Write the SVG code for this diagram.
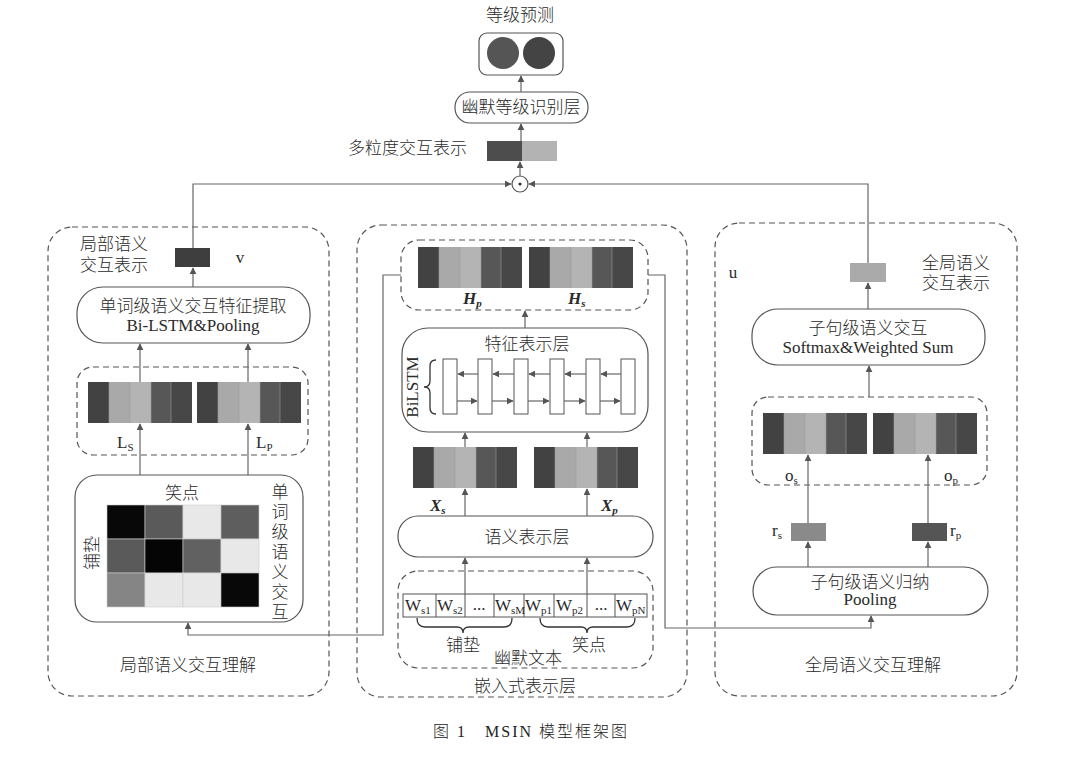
<svg xmlns="http://www.w3.org/2000/svg" xmlns:xlink="http://www.w3.org/1999/xlink" width="1070" height="764" viewBox="0 0 1070 764">
<style>
.zh{font-family:"Noto Sans CJK SC","Liberation Sans",sans-serif;font-size:17px;fill:#2a2a2a;font-weight:300}
.en{font-family:"Liberation Serif","Noto Sans CJK SC",serif;font-size:17px;fill:#2a2a2a}
.zh .en{font-weight:400}
.bi{font-weight:bold;font-style:italic}
.sub{font-size:11px}
.box{fill:#fff;stroke:#555;stroke-width:1.2}
.dash{fill:none;stroke:#555;stroke-width:1.2;stroke-dasharray:6 4}
.ln{fill:none;stroke:#666;stroke-width:1.2}
.arr{marker-end:url(#ah)}
.cap{font-family:"Liberation Serif","Noto Sans CJK SC",serif;font-size:16px;fill:#222;font-weight:300}
</style>
<defs>
<marker id="ah" viewBox="0 0 10 10" refX="9" refY="5" markerWidth="7" markerHeight="7" markerUnits="userSpaceOnUse" orient="auto">
<path d="M0,0 L10,5 L0,10 z" fill="#555"/>
</marker>
<g id="bar">
<rect x="0" y="0" width="21" height="41" fill="#424242"/>
<rect x="21" y="0" width="21" height="41" fill="#a9a9a9"/>
<rect x="42" y="0" width="21" height="41" fill="#b4b4b4"/>
<rect x="63" y="0" width="20" height="41" fill="#575757"/>
<rect x="83" y="0" width="21" height="41" fill="#474747"/>
<path d="M21,0V41M42,0V41M63,0V41M83,0V41" stroke="#9a9a9a" stroke-width="0.6"/>
</g>
</defs>
<rect width="1070" height="764" fill="#fff"/>

<!-- panels -->
<g id="panel-local">
<rect class="dash" x="48" y="227" width="281" height="469" rx="24"/>
<text class="zh" x="80" y="250">局部语义<tspan x="80" dy="21">交互表示</tspan></text>
<text class="zh" x="188" y="671" text-anchor="middle">局部语义交互理解</text>
</g>
<g id="panel-embed">
<rect class="dash" x="357" y="225" width="330" height="472" rx="24"/>
<text class="zh" x="525" y="692" text-anchor="middle">嵌入式表示层</text>
</g>
<g id="panel-global">
<rect class="dash" x="715" y="223" width="302" height="473" rx="24"/>
<text class="zh" x="922" y="269">全局语义<tspan x="922" dy="20">交互表示</tspan></text>
<text class="zh" x="873" y="671" text-anchor="middle">全局语义交互理解</text>
</g>

<!-- top -->
<g id="title-pred">
<text class="zh" x="520" y="21" text-anchor="middle">等级预测</text>
</g>
<g id="pred">
<rect class="box" x="479" y="33" width="84" height="42" rx="8"/>
<circle cx="503" cy="53" r="16" fill="#555"/>
<circle cx="539" cy="53" r="16" fill="#444"/>
</g>
<g id="humor-layer">
<rect class="box" x="455" y="92" width="133" height="31" rx="15"/>
<text class="zh" x="521" y="113" text-anchor="middle">幽默等级识别层</text>
</g>
<g id="multi-rep">
<rect x="487" y="141" width="35" height="20" fill="#4d4d4d"/>
<rect x="522" y="141" width="35" height="20" fill="#b3b3b3"/>
<text class="zh" x="348" y="154">多粒度交互表示</text>
</g>
<g id="odot">
<circle cx="520" cy="184" r="8" fill="#fff" stroke="#555" stroke-width="1.2"/>
<circle cx="520" cy="184" r="1.6" fill="#333"/>
</g>

<!-- left panel nodes -->
<g id="v-vec">
<rect x="175" y="248" width="35" height="19" fill="#3e3e3e"/>
<text class="en" x="240" y="263" text-anchor="middle">v</text>
</g>
<g id="word-extract">
<rect class="box" x="77" y="287" width="233" height="56" rx="26"/>
<text class="zh" x="193" y="312" text-anchor="middle">单词级语义交互特征提取<tspan class="en" x="193" dy="19">Bi-LSTM&amp;Pooling</tspan></text>
</g>
<g id="L-bars">
<rect class="dash" x="77" y="367" width="231" height="88" rx="16"/>
<use xlink:href="#bar" x="88" y="382"/>
<use xlink:href="#bar" x="197" y="382"/>
<text class="en" x="117" y="448">L<tspan class="sub" dy="3">S</tspan></text>
<text class="en" x="256" y="448">L<tspan class="sub" dy="3">P</tspan></text>
</g>
<g id="matrix">
<rect class="box" x="75" y="475" width="228" height="147" rx="22"/>
<text class="zh" x="182" y="499" text-anchor="middle">笑点</text>
<text class="zh" transform="translate(98,553) rotate(-90)" text-anchor="middle">铺垫</text>
<g stroke="#ccc" stroke-width="0.6">
<rect x="107" y="505" width="38" height="34" fill="#080808"/>
<rect x="145" y="505" width="38" height="34" fill="#5a5a5a"/>
<rect x="183" y="505" width="38" height="34" fill="#e8e8e8"/>
<rect x="221" y="505" width="38" height="34" fill="#5e5e5e"/>
<rect x="107" y="539" width="38" height="34" fill="#5a5a5a"/>
<rect x="145" y="539" width="38" height="34" fill="#050505"/>
<rect x="183" y="539" width="38" height="34" fill="#616161"/>
<rect x="221" y="539" width="38" height="34" fill="#e8e8e8"/>
<rect x="107" y="573" width="38" height="34" fill="#858585"/>
<rect x="145" y="573" width="38" height="34" fill="#e8e8e8"/>
<rect x="183" y="573" width="38" height="34" fill="#e8e8e8"/>
<rect x="221" y="573" width="38" height="34" fill="#080808"/>
</g>
<text class="zh" x="280" y="483" style="writing-mode:vertical-rl" letter-spacing="3">单词级语义交互</text>
</g>

<!-- middle panel nodes -->
<g id="H-bars">
<rect class="dash" x="401" y="240" width="247" height="70" rx="18"/>
<use xlink:href="#bar" x="418" y="247"/>
<use xlink:href="#bar" x="529" y="247"/>
<text class="en bi" x="463" y="304">H<tspan class="sub" dy="3">p</tspan></text>
<text class="en bi" x="568" y="304">H<tspan class="sub" dy="3">s</tspan></text>
</g>
<g id="feature-layer">
<rect class="box" x="402" y="328" width="246" height="104" rx="26"/>
<text class="zh" x="527" y="350" text-anchor="middle">特征表示层</text>
<text class="en" transform="translate(418,387) rotate(-90)" text-anchor="middle">BiLSTM</text>
<path d="M436,360 Q430,360 430,366 V381 Q430,387 424,387 Q430,387 430,393 V408 Q430,414 436,414" fill="none" stroke="#333" stroke-width="1.3"/>
<g fill="#fff" stroke="#555" stroke-width="1">
<rect x="443" y="359" width="14" height="55"/>
<rect x="478" y="359" width="14" height="55"/>
<rect x="514" y="359" width="14" height="55"/>
<rect x="550" y="359" width="14" height="55"/>
<rect x="586" y="359" width="14" height="55"/>
<rect x="621" y="359" width="14" height="55"/>
</g>
</g>
<g id="X-bars">
<use xlink:href="#bar" x="413" y="447"/>
<use xlink:href="#bar" x="534" y="447"/>
<text class="en bi" x="430" y="511">X<tspan class="sub" dy="3">s</tspan></text>
<text class="en bi" x="601" y="511">X<tspan class="sub" dy="3">p</tspan></text>
</g>
<g id="semantic-layer">
<rect class="box" x="398" y="516" width="255" height="41" rx="20"/>
<text class="zh" x="527" y="543" text-anchor="middle">语义表示层</text>
</g>
<g id="humor-text">
<rect class="dash" x="398" y="571" width="255" height="97" rx="20"/>
<rect x="403" y="594" width="244" height="23" fill="#fff" stroke="#555" stroke-width="1"/>
<path d="M436,594V617M465,594V617M494,594V617M524,594V617M554,594V617M587,594V617M615,594V617" stroke="#555" stroke-width="1"/>
<g class="en" font-size="15">
<text x="405" y="611">W<tspan class="sub" dy="3">s1</tspan></text>
<text x="437" y="611">W<tspan class="sub" dy="3">s2</tspan></text>
<text x="479" y="610" text-anchor="middle">...</text>
<text x="495" y="611">W<tspan class="sub" dy="3">sM</tspan></text>
<text x="525" y="611">W<tspan class="sub" dy="3">p1</tspan></text>
<text x="556" y="611">W<tspan class="sub" dy="3">p2</tspan></text>
<text x="601" y="610" text-anchor="middle">...</text>
<text x="616" y="611">W<tspan class="sub" dy="3">pN</tspan></text>
</g>
<path d="M417,618 Q417,627 425,627 H457 Q463,627 463,633 Q463,627 469,627 H504 Q512,627 512,618" fill="none" stroke="#333" stroke-width="1.3"/>
<path d="M540,618 Q540,627 548,627 H581 Q587,627 587,633 Q587,627 593,627 H627 Q635,627 635,618" fill="none" stroke="#333" stroke-width="1.3"/>
<text class="zh" x="463" y="651" text-anchor="middle">铺垫</text>
<text class="zh" x="589" y="651" text-anchor="middle">笑点</text>
<text class="zh" x="528" y="664" text-anchor="middle">幽默文本</text>
</g>

<!-- right panel nodes -->
<g id="u-vec">
<rect x="850" y="263" width="36" height="19" fill="#aaaaaa"/>
<text class="en" x="733" y="278" text-anchor="middle">u</text>
</g>
<g id="clause-interact">
<rect class="box" x="752" y="309" width="233" height="56" rx="26"/>
<text class="zh" x="868" y="334" text-anchor="middle">子句级语义交互<tspan class="en" x="868" dy="19">Softmax&amp;Weighted Sum</tspan></text>
</g>
<g id="o-bars">
<rect class="dash" x="752" y="397" width="235" height="88" rx="16"/>
<use xlink:href="#bar" x="763" y="413"/>
<use xlink:href="#bar" x="873" y="413"/>
<text class="en" x="785" y="481">o<tspan class="sub" dy="3">s</tspan></text>
<text class="en" x="944" y="481">o<tspan class="sub" dy="3">p</tspan></text>
</g>
<g id="r-vecs">
<rect x="791" y="523" width="35" height="18" fill="#8a8a8a"/>
<rect x="912" y="523" width="35" height="18" fill="#555"/>
<text class="en" x="772" y="536">r<tspan class="sub" dy="3">s</tspan></text>
<text class="en" x="950" y="536">r<tspan class="sub" dy="3">p</tspan></text>
</g>
<g id="clause-pool">
<rect class="box" x="753" y="567" width="235" height="48" rx="24"/>
<text class="zh" x="870" y="588" text-anchor="middle">子句级语义归纳<tspan class="en" x="870" dy="17">Pooling</tspan></text>
</g>

<!-- connectors -->
<g id="connectors">
<line class="ln arr" x1="521" y1="92" x2="521" y2="76"/>
<line class="ln arr" x1="521" y1="141" x2="521" y2="124"/>
<line class="ln arr" x1="520" y1="176" x2="520" y2="162"/>
<polyline class="ln arr" points="193,248 193,184 511,184"/>
<polyline class="ln arr" points="868,263 868,184 529,184"/>
<line class="ln arr" x1="193" y1="287" x2="193" y2="268"/>
<line class="ln arr" x1="140" y1="382" x2="140" y2="344"/>
<line class="ln arr" x1="248" y1="382" x2="248" y2="344"/>
<line class="ln arr" x1="140" y1="475" x2="140" y2="424"/>
<line class="ln arr" x1="248" y1="475" x2="248" y2="424"/>
<polyline class="ln arr" points="401,275 383,275 383,635 188,635 188,623"/>
<polyline class="ln arr" points="648,275 665,275 665,628 871,628 871,616"/>
<line class="ln arr" x1="525" y1="328" x2="525" y2="311"/>
<line class="ln arr" x1="465" y1="447" x2="465" y2="433"/>
<line class="ln arr" x1="587" y1="447" x2="587" y2="433"/>
<line class="ln arr" x1="465" y1="516" x2="465" y2="489"/>
<line class="ln arr" x1="587" y1="516" x2="587" y2="489"/>
<line class="ln arr" x1="465" y1="594" x2="465" y2="558"/>
<line class="ln arr" x1="587" y1="594" x2="587" y2="558"/>
<g class="ln">
<line class="arr" x1="478" y1="374" x2="458" y2="374"/>
<line class="arr" x1="514" y1="374" x2="493" y2="374"/>
<line class="arr" x1="550" y1="374" x2="529" y2="374"/>
<line class="arr" x1="586" y1="374" x2="565" y2="374"/>
<line class="arr" x1="621" y1="374" x2="601" y2="374"/>
<line class="arr" x1="457" y1="401" x2="477" y2="401"/>
<line class="arr" x1="492" y1="401" x2="513" y2="401"/>
<line class="arr" x1="528" y1="401" x2="549" y2="401"/>
<line class="arr" x1="564" y1="401" x2="585" y2="401"/>
<line class="arr" x1="600" y1="401" x2="620" y2="401"/>
</g>
<line class="ln arr" x1="868" y1="309" x2="868" y2="283"/>
<line class="ln arr" x1="869" y1="397" x2="869" y2="366"/>
<line class="ln arr" x1="808" y1="523" x2="808" y2="455"/>
<line class="ln arr" x1="928" y1="523" x2="928" y2="455"/>
<line class="ln arr" x1="808" y1="567" x2="808" y2="542"/>
<line class="ln arr" x1="928" y1="567" x2="928" y2="542"/>
</g>

<g id="caption">
<text class="cap" x="433" y="737" letter-spacing="2">图 1　MSIN 模型框架图</text>
</g>
</svg>
